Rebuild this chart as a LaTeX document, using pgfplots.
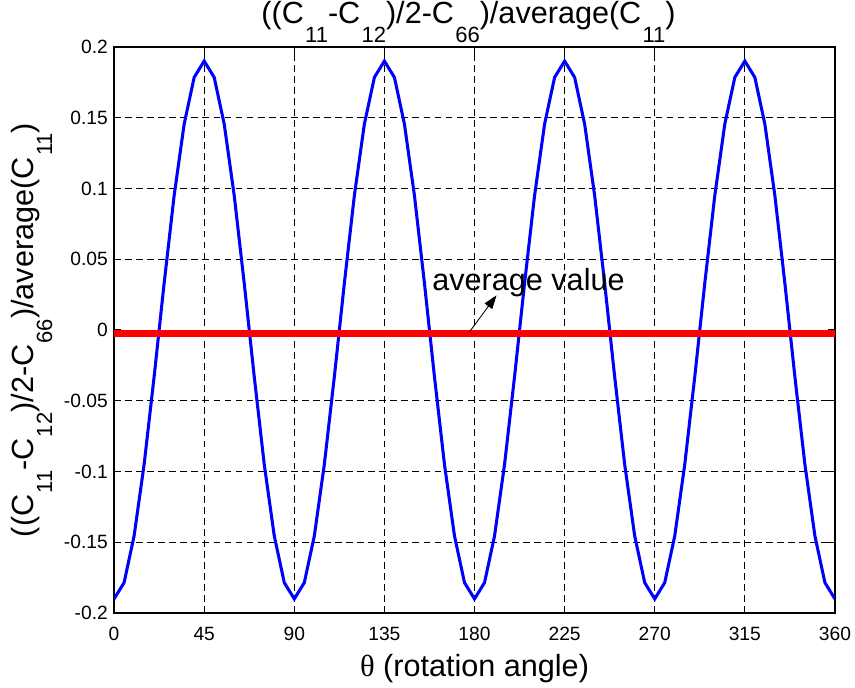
\documentclass[border=0pt]{standalone}
\usepackage{pgfplots}
\pgfplotsset{compat=1.18}
\usepackage{graphicx}
\usepackage{fontspec}
\setmainfont{Liberation Sans}
\newfontfamily\symfont{Liberation Serif}
\usetikzlibrary{arrows.meta}
% MATLAB-like low subscripts
\newcommand\sub[1]{\kern0.04em\raisebox{-0.62em}{\scalebox{0.72}{#1}}}
\newcommand\bigfont{\fontsize{18}{21}\selectfont}

\begin{document}
\begin{tikzpicture}
\begin{axis}[
    name=ax,
    scale only axis,
    width=424pt, height=333pt,
    xmin=0, xmax=360, ymin=-0.2, ymax=0.2,
    xtick={0,45,...,360},
    ytick={-0.2,-0.15,-0.1,-0.05,0,0.05,0.1,0.15,0.2},
    yticklabels={-0.2,-0.15,-0.1,-0.05,0,0.05,0.1,0.15,0.2},
    /pgf/number format/assume math mode=true,
    tick label style={font=\fontsize{11.3}{13}\selectfont, inner sep=0pt},
    xticklabel style={anchor=base, yshift=-15.9pt},
    yticklabel style={anchor=east, xshift=-3.5pt},
    tick align=inside,
    major tick length=4pt,
    tick style={black, line width=0.6pt},
    axis line style={line width=0.9pt},
    grid=major,
    grid style={black, line width=0.55pt, dash pattern=on 4pt off 2.5pt},
    title={((C\sub{11}-C\sub{12})/2-C\sub{66})/average(C\sub{11})},
    title style={font=\bigfont, inner sep=0pt, at={(axis description cs:0.5,1)},
        anchor=base, yshift=7.5pt, xshift=-3.5pt},
    xlabel={{\symfont θ} (rotation angle)},
    ylabel={((C\sub{11}-C\sub{12})/2-C\sub{66})/average(C\sub{11})},
    label style={font=\bigfont, inner sep=0pt},
    xlabel style={at={(axis description cs:0.5,0)}, anchor=base, yshift=-37.6pt},
    ylabel style={at={(axis description cs:-0.1123,0.5)}, anchor=base},
]
\addplot[blue, line width=1.8pt] coordinates {
 (0,-0.19) (5,-0.1785) (10,-0.1455) (15,-0.095) (20,-0.033) (25,0.033) (30,0.095) (35,0.1455) (40,0.1785)
 (45,0.19) (50,0.1785) (55,0.1455) (60,0.095) (65,0.033) (70,-0.033) (75,-0.095) (80,-0.1455) (85,-0.1785)
 (90,-0.19) (95,-0.1785) (100,-0.1455) (105,-0.095) (110,-0.033) (115,0.033) (120,0.095) (125,0.1455) (130,0.1785)
 (135,0.19) (140,0.1785) (145,0.1455) (150,0.095) (155,0.033) (160,-0.033) (165,-0.095) (170,-0.1455) (175,-0.1785)
 (180,-0.19) (185,-0.1785) (190,-0.1455) (195,-0.095) (200,-0.033) (205,0.033) (210,0.095) (215,0.1455) (220,0.1785)
 (225,0.19) (230,0.1785) (235,0.1455) (240,0.095) (245,0.033) (250,-0.033) (255,-0.095) (260,-0.1455) (265,-0.1785)
 (270,-0.19) (275,-0.1785) (280,-0.1455) (285,-0.095) (290,-0.033) (295,0.033) (300,0.095) (305,0.1455) (310,0.1785)
 (315,0.19) (320,0.1785) (325,0.1455) (330,0.095) (335,0.033) (340,-0.033) (345,-0.095) (350,-0.1455) (355,-0.1785)
 (360,-0.19)
};
\addplot[red, line width=4.1pt] coordinates {(0,-0.0025) (360,-0.0025)};
\draw[-{Triangle[length=8pt,width=5.5pt]}, line width=0.5pt] (axis cs:177.4,-0.0015) -- (axis cs:191,0.0245);
\node[font=\bigfont, inner sep=0pt, anchor=base west] at (axis cs:158.8,0.028) {average value};
\end{axis}
\pgfresetboundingbox
\useasboundingbox ([xshift=-67.1pt,yshift=-43.5pt]ax.south west) rectangle ([xshift=11.8pt,yshift=27.6pt]ax.north east);
\end{tikzpicture}
\end{document}
